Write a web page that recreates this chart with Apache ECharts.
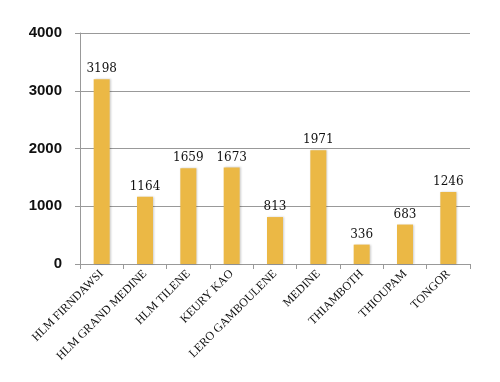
<!DOCTYPE html>
<html><head><meta charset="utf-8">
<script src="https://cdn.jsdelivr.net/npm/echarts@6/dist/echarts.min.js"></script>
<style>html,body{margin:0;padding:0;background:#fff}#c{width:500px;height:382px}</style>
</head><body><div id="c"></div>
<script>
const categories = ["HLM FIRNDAWSI","HLM GRAND MEDINE","HLM TILENE","KEURY KAO","LERO GAMBOULENE","MEDINE","THIAMBOTH","THIOUPAM","TONGOR"];
const values = [3198,1164,1659,1673,813,1971,336,683,1246];
const yTicks = [0,1000,2000,3000,4000];
const chart = echarts.init(document.getElementById('c'));
chart.setOption({
  animation:false,
  grid:{left:80,right:30,top:33,bottom:118},
  xAxis:{type:'category',data:categories,
    axisLine:{lineStyle:{color:'#999'}},
    axisTick:{show:true,length:5,lineStyle:{color:'#999'}},
    axisLabel:{rotate:45,interval:0,fontFamily:'Liberation Serif',fontSize:12,color:'#111',margin:8}},
  yAxis:{type:'value',min:yTicks[0],max:yTicks[yTicks.length-1],interval:1000,
    axisLine:{show:true,lineStyle:{color:'#999'}},
    axisTick:{show:true,length:5,lineStyle:{color:'#999'}},
    splitLine:{lineStyle:{color:'#999'}},
    axisLabel:{formatter:v=>String(v),fontFamily:'Liberation Sans',fontWeight:'bold',fontSize:15,color:'#111',margin:18}},
  series:[{type:'bar',data:values,barWidth:16,
    itemStyle:{color:'#EBB845',shadowColor:'rgba(0,0,0,0.2)',shadowBlur:2,shadowOffsetX:1},
    label:{show:true,position:'top',fontFamily:'DejaVu Serif',fontSize:12,color:'#111',distance:4}}]
});
</script></body></html>
